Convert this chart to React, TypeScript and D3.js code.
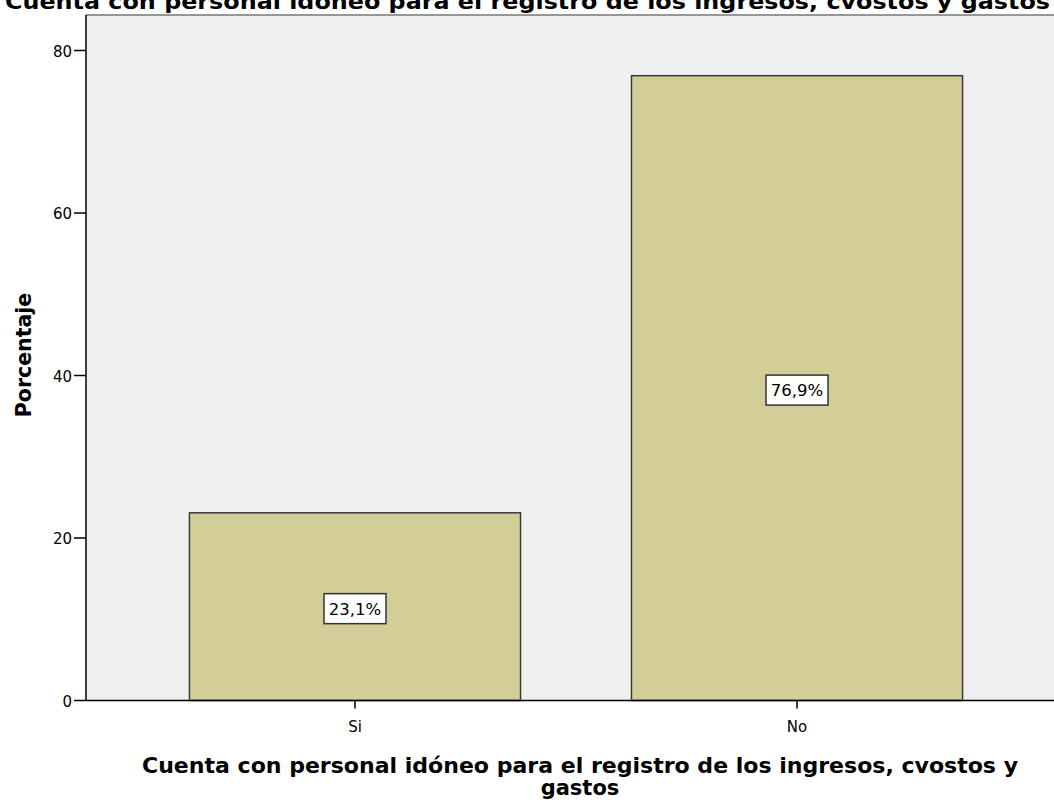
import React from 'react';
import {scaleBand, scaleLinear} from 'd3';

// categorias y porcentajes
const categories = ['Si', 'No'];
const percents = [23.1, 76.9];
const pctLabels = ['23,1%', '76,9%'];
const yTicks = [0, 20, 40, 60, 80];

const W = 1054;
const H = 804;

const App = () => {
    const left = 86, right = 1066, top = 15, bottom = 700.5;

    const x = scaleBand<string>()
        .domain(categories)
        .range([left, right])
        .paddingInner(0.251)
        .paddingOuter(0.234);

    const y = scaleLinear()
        .domain([0, 80])
        .range([bottom, 50.5]);

    const font = '"DejaVu Sans", Verdana, sans-serif';

    return (
        <svg width={W} height={H} style={{display: 'block', position: 'absolute', left: 0, top: 0}} fontFamily={font}>
            <rect x={0} y={0} width={W} height={H} fill="#fff"/>
            {/* titulo recortado arriba, como en la imagen */}
            <text x={5} y={9} fontSize={21} fontWeight="bold" fill="#000" textLength={1045} lengthAdjust="spacingAndGlyphs">
                Cuenta con personal idóneo para el registro de los ingresos, cvostos y gastos
            </text>
            <rect x={left} y={top} width={right - left} height={bottom - top} fill="#f0f0f0"/>
            <line x1={left} x2={right} y1={top} y2={top} stroke="#777" strokeWidth={1.5}/>

            {categories.map((c, i) => (
                <rect key={c} x={x(c)} y={y(percents[i])} width={x.bandwidth()}
                      height={bottom - y(percents[i])} fill="#d3ce98" stroke="#3a3a3a" strokeWidth={1.5}/>
            ))}

            {categories.map((c, i) => {
                const cx = (x(c) as number) + x.bandwidth() / 2;
                const cy = y(percents[i] / 2) + 2;
                return (
                    <g key={'l' + c}>
                        <rect x={cx - 31} y={cy - 15} width={62} height={30} fill="#fff" stroke="#333" strokeWidth={1.5}/>
                        <text x={cx} y={cy + 6} textAnchor="middle" fontSize={16.5} fill="#000">{pctLabels[i]}</text>
                    </g>
                );
            })}

            {/* eje y */}
            <line x1={left} x2={left} y1={top} y2={bottom} stroke="#000" strokeWidth={1.5}/>
            {yTicks.map(t => (
                <g key={t}>
                    <line x1={left - 12} x2={left} y1={y(t)} y2={y(t)} stroke="#000" strokeWidth={1.5}/>
                    <text x={left - 14} y={y(t) + 6} textAnchor="end" fontSize={15} fill="#000">{t}</text>
                </g>
            ))}

            {/* eje x */}
            <line x1={left} x2={W} y1={bottom} y2={bottom} stroke="#000" strokeWidth={1.5}/>
            {categories.map(c => {
                const cx = (x(c) as number) + x.bandwidth() / 2;
                return (
                    <g key={'t' + c}>
                        <line x1={cx} x2={cx} y1={bottom} y2={bottom + 8} stroke="#000" strokeWidth={1.5}/>
                        <text x={cx} y={bottom + 31} textAnchor="middle" fontSize={15} fill="#000">{c}</text>
                    </g>
                );
            })}

            <text x={142} y={773} fontSize={21} fontWeight="bold" fill="#000" textLength={876} lengthAdjust="spacingAndGlyphs">
                Cuenta con personal idóneo para el registro de los ingresos, cvostos y
            </text>
            <text x={580} y={795} textAnchor="middle" fontSize={21} fontWeight="bold" fill="#000">gastos</text>

            <text transform="translate(31,355) rotate(-90)" textAnchor="middle" fontSize={20.5} fontWeight="bold" fill="#000">
                Porcentaje
            </text>
        </svg>
    );
};

export default App;
